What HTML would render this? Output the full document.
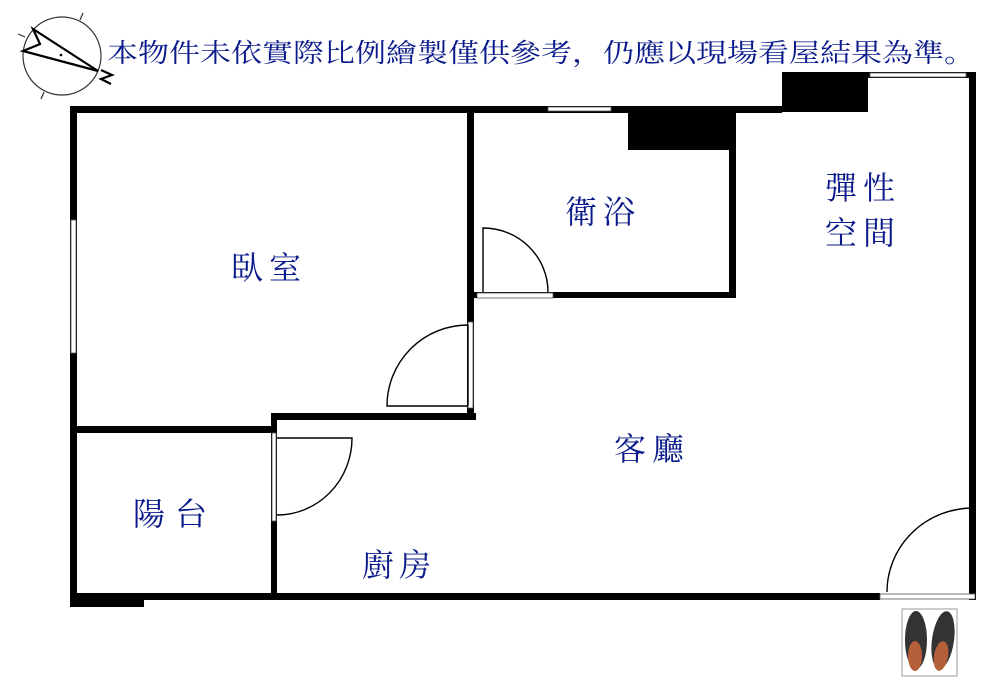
<!DOCTYPE html>
<html><head><meta charset="utf-8"><style>
html,body{margin:0;padding:0;background:#fff;}
svg{display:block;}
text{font-family:"Liberation Serif","Noto Serif CJK SC","Noto Sans CJK TC",serif;fill:#0a1a8a;}
</style></head><body>
<svg width="1000" height="688" viewBox="0 0 1000 688" xmlns="http://www.w3.org/2000/svg">
<rect width="1000" height="688" fill="#fff"/>
<!-- compass -->
<circle cx="62" cy="56" r="39" fill="none" stroke="#333" stroke-width="1.2"/>
<line x1="80" y1="20" x2="83" y2="13" stroke="#333" stroke-width="1.2"/>
<line x1="25" y1="37" x2="18" y2="34" stroke="#333" stroke-width="1.2"/>
<line x1="44" y1="92" x2="41" y2="99" stroke="#333" stroke-width="1.2"/>
<polygon points="33,29 40,44 23,51 98,71" fill="none" stroke="#000" stroke-width="2.2" stroke-linejoin="miter"/>
<circle cx="61" cy="55" r="1.3" fill="#000"/>
<polyline points="101,70 112,75 101,79 111,84" fill="none" stroke="#000" stroke-width="2.2"/>
<!-- title -->
<text x="107" y="62" font-size="26" textLength="868" lengthAdjust="spacingAndGlyphs">本物件未依實際比例繪製僅供參考，仍應以現場看屋結果為準。</text>

<!-- walls -->
<g fill="#000">
<rect x="70" y="106" width="712" height="7"/>
<rect x="70" y="106" width="7" height="501"/>
<rect x="70" y="593" width="810" height="7"/>
<rect x="70" y="593" width="74" height="14"/>
<rect x="782" y="72" width="194" height="6"/>
<rect x="782" y="72" width="86" height="40"/>
<rect x="969" y="72" width="7" height="528"/>
<rect x="628" y="110" width="108" height="40"/>
<rect x="729" y="106" width="7" height="192"/>
<rect x="467" y="106" width="7" height="313"/>
<rect x="470" y="292" width="266" height="6"/>
<rect x="271" y="413" width="205" height="7"/>
<rect x="70" y="426" width="206" height="7"/>
<rect x="271" y="413" width="6" height="187"/>
</g>
<!-- windows / openings -->
<g fill="#fff" stroke="#555" stroke-width="0.8">
<rect x="71" y="220" width="5" height="133"/>
<rect x="548" y="107" width="63" height="4"/>
<rect x="870" y="73" width="96" height="4"/>
<rect x="468" y="322" width="5" height="86"/>
<rect x="477" y="293" width="76" height="5"/>
<rect x="272" y="433" width="4" height="88"/>
<rect x="880" y="594" width="95" height="5"/>
</g>
<!-- doors -->
<g fill="none" stroke="#000" stroke-width="1.4">
<path d="M468,406 L468,325 A81,81 0 0 0 387,406 L468,406"/>
<path d="M483,292 L483,228 A65,64 0 0 1 548,292"/>
<path d="M277,438 L352,438 A75,77 0 0 1 277,515"/>
<path d="M973,592 L973,508 A86,84 0 0 0 887,592"/>
</g>
<!-- shoes -->
<rect x="902" y="609" width="55" height="67" fill="#fff" stroke="#999" stroke-width="1"/>
<ellipse cx="916" cy="640" rx="11" ry="29" fill="#333"/>
<ellipse cx="943" cy="640" rx="11" ry="29" fill="#333" transform="rotate(8 943 640)"/>
<ellipse cx="915" cy="656" rx="7" ry="15" fill="#b5603a"/>
<ellipse cx="941" cy="656" rx="7" ry="15" fill="#b5603a" transform="rotate(10 941 656)"/>
<!-- labels -->
<g font-size="32">
<text x="231" y="279" letter-spacing="6">臥室</text>
<text x="565" y="223" letter-spacing="6">衛浴</text>
<text x="825" y="199" letter-spacing="6">彈性</text>
<text x="825" y="244" letter-spacing="6">空間</text>
<text x="614" y="460" letter-spacing="6">客廳</text>
<text x="133" y="525" letter-spacing="10">陽台</text>
<text x="362" y="576" letter-spacing="5">廚房</text>
</g>
</svg>
</body></html>
